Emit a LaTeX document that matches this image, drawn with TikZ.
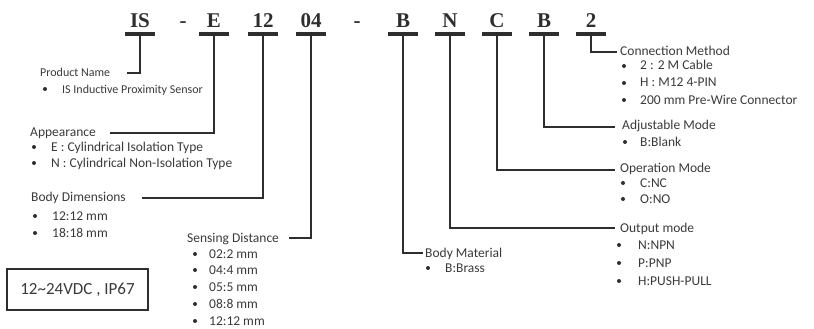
\documentclass[tikz,border=0pt]{standalone}
\usepackage{fontspec}
\setmainfont{Carlito}
\newfontfamily\codefont{Liberation Serif}
\definecolor{ink}{HTML}{2E2E2E}
\definecolor{txt}{HTML}{3A3A3A}
\begin{document}
\begin{tikzpicture}[x=1pt,y=-1pt,
  code/.style={font=\codefont\bfseries\fontsize{21}{21}\selectfont, text=ink, anchor=base, inner sep=0pt},
  uline/.style={line width=3.5pt, draw=ink},
  conn/.style={line width=2.8pt, draw=ink, line join=miter},
  lab/.style={font=\fontsize{13.5}{15}\selectfont, text=txt, anchor=base west, inner sep=0pt},
  smalllab/.style={lab, font=\fontsize{12}{14}\selectfont},
  bul/.style={circle, fill=ink, inner sep=0pt, minimum size=4pt},
  specbox/.style={draw=ink, line width=2pt, minimum width=141pt, minimum height=41pt, inner sep=0pt, font=\fontsize{17}{19}\selectfont, text=txt},
]
\useasboundingbox (0,0) rectangle (814,329);

% code letters
\node[code] (cIS) at (140,28) {IS};
\node[code] (d1)  at (183,28) {-};
\node[code] (cE)  at (214,28) {E};
\node[code] (c12) at (263,28) {12};
\node[code] (c04) at (311,28) {04};
\node[code] (d2)  at (357,28) {-};
\node[code] (cB1) at (403,28) {B};
\node[code] (cN)  at (450,28) {N};
\node[code] (cC)  at (497,28) {C};
\node[code] (cB2) at (544,28) {B};
\node[code] (c2)  at (591,28) {2};

% underlines
\foreach \n in {IS,E,12,04,B1,N,C,B2,2}{
  \coordinate (u\n) at (c\n.base |- 0,34);
  \draw[uline] ([xshift=-15pt]u\n) -- ([xshift=15pt]u\n);
}

% connector ends
\coordinate (eProd) at (127,73);
\coordinate (eApp)  at (110,133);
\coordinate (eDim)  at (142,198);
\coordinate (eSen)  at (289,238);
\coordinate (eMat)  at (423,253);
\coordinate (eOut)  at (615,228);
\coordinate (eOp)   at (615,170);
\coordinate (eAdj)  at (615,127);
\coordinate (eCon)  at (617,52);

\draw[conn] (uIS) |- (eProd);
\draw[conn] (uE)  |- (eApp);
\draw[conn] (u12) |- (eDim);
\draw[conn] (u04) |- (eSen);
\draw[conn] (uB1) |- (eMat);
\draw[conn] (uN)  |- (eOut);
\draw[conn] (uC)  |- (eOp);
\draw[conn] (uB2) |- (eAdj);
\draw[conn] (u2)  |- (eCon);

% labels
\node[smalllab] (lProd) at (40,77)  {Product Name};
\node[lab] (lApp)  at (30,136) {Appearance};
\node[lab] (lDim)  at (31,201) {Body Dimensions};
\node[lab] (lSen)  at (187,242) {Sensing Distance};
\node[lab] (lMat)  at (425,257) {Body Material};
\node[lab] (lOut)  at (620,232) {Output mode};
\node[lab] (lOp)   at (620,172) {Operation Mode};
\node[lab] (lAdj)  at (622,129) {Adjustable Mode};
\node[lab] (lCon)  at (620,56)  {Connection Method};

% product name item
\node[bul] (b0) at (45,89) {};
\node[smalllab] (t0) at (62,93) {IS Inductive Proximity Sensor};

% items: bullet x, text x, y, text
\foreach \bx/\tx/\y/\t [count=\i] in {
  34/51/147/{E : Cylindrical Isolation Type},
  34/51/163/{N : Cylindrical Non-Isolation Type},
  35/52/216/{12:12 mm},
  35/52/233/{18:18 mm},
  195/209/254/{02:2 mm},
  195/209/270/{04:4 mm},
  195/209/287/{05:5 mm},
  195/209/304/{08:8 mm},
  195/209/321/{12:12 mm},
  428/445/268/{B:Brass},
  619/638/245/{N:NPN},
  619/638/263/{P:PNP},
  619/638/281/{H:PUSH-PULL},
  623/640/183/{C:NC},
  623/640/199/{O:NO},
  625/640/142/{B:Blank},
  624/640/66/{2 : 2 M Cable},
  624/640/83/{H : M12 4-PIN},
  624/640/100/{200 mm Pre-Wire Connector}}{
  \node[bul] (b\i) at (\bx,\y) {};
  \node[lab] (t\i) at (\tx,\y+4) {\t};
}

% spec box
\node[specbox] (spec) at (77.5,289.5) {12\char"007E 24VDC , IP67};
\end{tikzpicture}
\end{document}
